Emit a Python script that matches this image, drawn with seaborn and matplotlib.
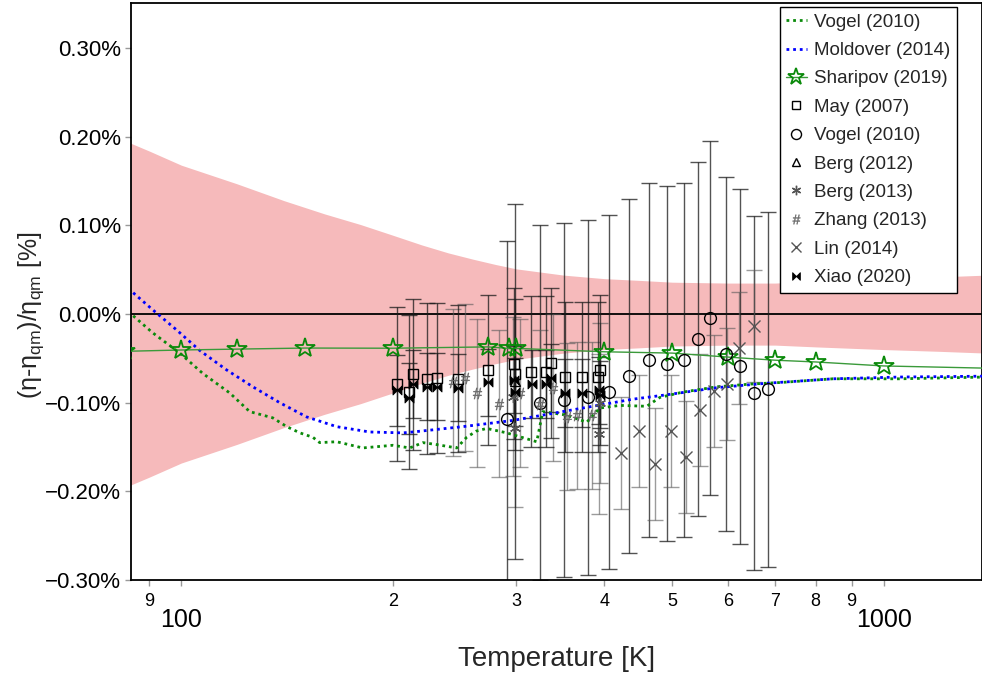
import numpy as np
import pandas as pd
import matplotlib
matplotlib.use("Agg")
import matplotlib.pyplot as plt
from matplotlib.ticker import FixedLocator, FixedFormatter, FuncFormatter
from matplotlib.path import Path
from matplotlib import font_manager
import seaborn as sns

# ---------------- data ----------------
band_T = [84, 90, 100, 120, 140, 160, 180, 200, 220, 240, 260, 280, 300, 350, 400,
          450, 500, 600, 700, 800, 1000, 1200, 1400]
band_u = [0.194, 0.184, 0.168, 0.147, 0.128, 0.113, 0.101, 0.089, 0.078, 0.069, 0.062,
          0.056, 0.051, 0.044, 0.040, 0.038, 0.036, 0.035, 0.035, 0.037, 0.040, 0.042, 0.044]

vogel_line_T = [84, 91.0, 99.5, 107.3, 117.2, 125.1, 134.9, 141.3, 147.5, 153.9, 157.4, 166.4,
                181.2, 200, 211.4, 220.7, 230, 246.6, 254.8, 263, 272.1, 290.6, 296.3, 320.6,
                327.0, 353.7, 377.8, 394.2, 421, 459.9, 480, 517.6, 578.6, 644.8, 718.5,
                846.4, 1054, 1400]
vogel_line_v = [0.003, -0.021, -0.044, -0.067, -0.089, -0.110, -0.117, -0.127, -0.134, -0.139,
                -0.145, -0.144, -0.151, -0.148, -0.151, -0.145, -0.147, -0.151, -0.139, -0.132,
                -0.129, -0.134, -0.136, -0.144, -0.110, -0.114, -0.122, -0.106, -0.103, -0.104,
                -0.094, -0.088, -0.082, -0.079, -0.077, -0.073, -0.073, -0.071]

moldover_T = [84, 91.0, 98.5, 106.2, 116.0, 126.4, 138.1, 150.8, 166.4, 185.4, 206.7, 213.5,
              251.5, 296.3, 349.1, 411.4, 439.3, 491.2, 578.6, 681.7, 846.4, 1054, 1400]
moldover_v = [0.029, 0.005, -0.018, -0.041, -0.063, -0.082, -0.100, -0.116, -0.127, -0.133,
              -0.134, -0.133, -0.127, -0.120, -0.110, -0.100, -0.096, -0.091, -0.083, -0.078,
              -0.073, -0.071, -0.070]

sharipov_T = [83, 100, 120, 150, 200, 273.15, 293.15, 300, 400, 500, 600, 700, 800, 1000, 1400]
sharipov_v = [-0.042, -0.0405, -0.0395, -0.0383, -0.0385, -0.037, -0.0387, -0.0387, -0.0425,
              -0.044, -0.0485, -0.052, -0.054, -0.0585, -0.061]

may_T = [203, 211, 213.5, 224, 231, 248, 273, 298, 299, 315, 331, 336, 352, 372, 392, 395]
may_v = [-0.079, -0.088, -0.068, -0.073, -0.072, -0.073, -0.063, -0.056, -0.068, -0.065,
         -0.065, -0.055, -0.071, -0.071, -0.071, -0.063]
may_err = [0.087, 0.087, 0.085, 0.085, 0.085, 0.083, 0.085, 0.085, 0.085, 0.085, 0.085,
           0.085, 0.085, 0.085, 0.085, 0.085]

xiao_T = [203, 211, 213.5, 224, 231, 248, 273, 298, 299, 316, 331, 336, 352, 372, 393, 395]
xiao_v = [-0.086, -0.095, -0.079, -0.082, -0.082, -0.083, -0.077, -0.074, -0.088, -0.079,
          -0.079, -0.072, -0.089, -0.089, -0.086, -0.091]
xiao_err = [0.040, 0.040, 0.038, 0.038, 0.038, 0.038, 0.038, 0.038, 0.038, 0.038, 0.038,
            0.038, 0.038, 0.038, 0.038, 0.038]

vogel_T = [290.6, 323.8, 350.3, 379.0, 406.0, 433.5, 462.9, 491.2, 519.2, 543.6, 565.4,
           595.8, 623.7, 653.1, 683.9]
vogel_v = [-0.118, -0.100, -0.097, -0.094, -0.088, -0.070, -0.052, -0.056, -0.052, -0.028,
           -0.0045, -0.045, -0.059, -0.089, -0.085]
vogel_err = [0.200, 0.200, 0.200, 0.200, 0.200, 0.200, 0.200, 0.200, 0.200, 0.200, 0.200,
             0.200, 0.200, 0.200, 0.200]

berg12_T = [298.15]
berg12_v = [-0.076]
berg12_err = [0.200]

berg13_T = [297, 298.5, 393, 395]
berg13_v = [-0.093, -0.128, -0.135, -0.100]
berg13_err = [0.090, 0.090, 0.090, 0.090]

zhang_T = [243.5, 253.3, 263.4, 283.1, 303.3, 323.8, 338.0, 353.7, 365.5, 383.9]
zhang_v = [-0.077, -0.072, -0.089, -0.101, -0.089, -0.101, -0.083, -0.116, -0.114, -0.114]
zhang_err = [0.083, 0.083, 0.083, 0.083, 0.083, 0.083, 0.083, 0.083, 0.083, 0.083]

lin_T = [423, 448, 473, 498, 523, 548, 573, 598, 623, 653]
lin_v = [-0.157, -0.132, -0.169, -0.132, -0.161, -0.108, -0.087, -0.079, -0.038, -0.0135]
lin_err = [0.063, 0.063, 0.063, 0.063, 0.063, 0.063, 0.063, 0.063, 0.063, 0.063]

y_ticks = [-0.30, -0.20, -0.10, 0.00, 0.10, 0.20, 0.30]
x_major = [100, 1000]
x_major_labels = ["100", "1000"]
x_minor = [90, 200, 300, 400, 500, 600, 700, 800, 900]
x_minor_labels = ["9", "2", "3", "4", "5", "6", "7", "8", "9"]

# ---------------- style ----------------
sns.set_theme(style="white")


def has_font(name):
    try:
        font_manager.findfont(font_manager.FontProperties(family=name),
                              fallback_to_default=False)
        return True
    except Exception:
        return False


narrow = "Liberation Sans Narrow" if has_font("Liberation Sans Narrow") else "Liberation Sans"
plt.rcParams["font.family"] = ["Liberation Sans", "DejaVu Sans"]
plt.rcParams["mathtext.fontset"] = "custom"
plt.rcParams["mathtext.rm"] = "Liberation Sans"

fig = plt.figure(figsize=(9.82, 6.78), dpi=100)
ax = fig.add_axes([130.7 / 982, 1 - 580 / 678, (982 - 130.7) / 982, (580 - 3) / 678])

# uncertainty band
bu = np.array(band_u)
ax.fill_between(band_T, -bu, bu, color="#f6babb", lw=0, zorder=0)
ax.axhline(0, color="black", lw=1.3, zorder=1)

# bowtie marker
bowtie = Path([(-1, -1), (-1, 1), (0, 0), (-1, -1), (1, -1), (1, 1), (0, 0), (1, -1)],
              [Path.MOVETO, Path.LINETO, Path.LINETO, Path.CLOSEPOLY,
               Path.MOVETO, Path.LINETO, Path.LINETO, Path.CLOSEPOLY])

ebk = dict(fmt="none", elinewidth=1.0, capsize=5.5, capthick=1.0, zorder=2)
dark = (0.1, 0.1, 0.1, 0.75)
grey = (0.35, 0.35, 0.35, 0.6)
ax.errorbar(vogel_T, vogel_v, yerr=vogel_err, ecolor=dark, **ebk)
ax.errorbar(lin_T, lin_v, yerr=lin_err, ecolor=grey, **ebk)
ax.errorbar(zhang_T, zhang_v, yerr=zhang_err, ecolor=grey, **ebk)
ax.errorbar(berg13_T, berg13_v, yerr=berg13_err, ecolor=grey, **ebk)
ax.errorbar(berg12_T, berg12_v, yerr=berg12_err, ecolor=dark, **ebk)
ax.errorbar(may_T, may_v, yerr=may_err, ecolor=dark, **ebk)
ax.errorbar(xiao_T, xiao_v, yerr=xiao_err, ecolor=dark, **ebk)

# model curves
df_v = pd.DataFrame({"T": vogel_line_T, "v": vogel_line_v})
df_m = pd.DataFrame({"T": moldover_T, "v": moldover_v})
df_s = pd.DataFrame({"T": sharipov_T, "v": sharipov_v})
sns.lineplot(data=df_v, x="T", y="v", ax=ax, color="#0a8a0a", lw=2.0,
             linestyle=(0, (1, 1.4)), label="Vogel (2010)", zorder=4)
sns.lineplot(data=df_m, x="T", y="v", ax=ax, color="#0000ff", lw=2.0,
             linestyle=(0, (1, 1.4)), label="Moldover (2014)", zorder=4)
sns.lineplot(data=df_s, x="T", y="v", ax=ax, color="#3a9a3a", lw=1.0,
             marker="*", markersize=15, markerfacecolor="none",
             markeredgecolor="#0a8a0a", markeredgewidth=1.3,
             markevery=list(range(len(sharipov_T) - 1)),
             label="Sharipov (2019)", zorder=5)

mk = dict(linestyle="none", zorder=6)
ax.plot(may_T, may_v, marker="s", ms=7, mfc="none", mec="black", mew=1.0,
        label="May (2007)", **mk)
ax.plot(vogel_T, vogel_v, marker="o", ms=8.5, mfc="none", mec="black", mew=1.0,
        label="Vogel (2010)", **mk)
ax.plot(berg12_T, berg12_v, marker="^", ms=7, mfc="none", mec="black", mew=1.0,
        label="Berg (2012)", **mk)
ax.plot(berg13_T, berg13_v, marker=(6, 2, 0), ms=8, color="#555555", mew=1.0,
        label="Berg (2013)", **mk)
ax.plot(zhang_T, zhang_v, marker=r"$\#$", ms=8, color="#666666", mew=0.3,
        label="Zhang (2013)", **mk)
ax.plot(lin_T, lin_v, marker="x", ms=8, color="#555555", mew=1.0,
        label="Lin (2014)", **mk)
ax.plot(xiao_T, xiao_v, marker=bowtie, ms=6.5, color="black", mew=0.6,
        label="Xiao (2020)", **mk)

# axes
ax.set_xscale("log")
ax.set_xlim(84.7, 1380)
ax.set_ylim(-0.30, 0.351)
ax.set_yticks(y_ticks)
ax.yaxis.set_major_formatter(FuncFormatter(lambda v, p: f"{v:.2f}%".replace("-", "\u2212")))
ax.xaxis.set_major_locator(FixedLocator(x_major))
ax.xaxis.set_major_formatter(FixedFormatter(x_major_labels))
ax.xaxis.set_minor_locator(FixedLocator(x_minor))
ax.xaxis.set_minor_formatter(FixedFormatter(x_minor_labels))

ax.tick_params(axis="y", which="both", left=True, length=4, width=1, color="#999999",
               labelsize=16, pad=3, labelcolor="black")
ax.tick_params(axis="x", which="major", bottom=True, length=4, width=1, color="#999999",
               labelsize=18, pad=16, labelcolor="black")
ax.tick_params(axis="x", which="minor", bottom=True, length=4, width=1, color="#999999",
               labelsize=13, pad=5, labelcolor="black")
for lab in ax.get_xticklabels(which="both"):
    lab.set_fontfamily([narrow, "DejaVu Sans"])

for s in ax.spines.values():
    s.set_color("black")
    s.set_linewidth(1.3)

ax.set_xlabel("Temperature [K]", fontsize=20, family=[narrow, "DejaVu Sans"], labelpad=10)
ax.set_ylabel(r"(η-η$_\mathregular{qm}$)/η$_\mathregular{qm}$ [%]", fontsize=18)
ax.yaxis.set_label_coords(-0.100, 0.459)

handles, labels = ax.get_legend_handles_labels()
order = ["Vogel (2010)", "Moldover (2014)", "Sharipov (2019)", "May (2007)", "Vogel (2010)",
         "Berg (2012)", "Berg (2013)", "Zhang (2013)", "Lin (2014)", "Xiao (2020)"]
hs, ls = [], []
used = set()
for name in order:
    for i, (h, l) in enumerate(zip(handles, labels)):
        if l == name and i not in used:
            used.add(i)
            hs.append(h)
            ls.append(l)
            break
leg = ax.legend(hs, ls, loc="upper right", bbox_to_anchor=(957 / 982, 1 - 7 / 678),
                bbox_transform=fig.transFigure, borderaxespad=0, fontsize=13.5,
                frameon=True, fancybox=False, framealpha=1, edgecolor="black",
                handlelength=1.1, handletextpad=0.4, labelspacing=0.6, borderpad=0.35,
                markerscale=0.85)
leg.get_frame().set_linewidth(1.0)

fig.savefig("out.png", dpi=100)
